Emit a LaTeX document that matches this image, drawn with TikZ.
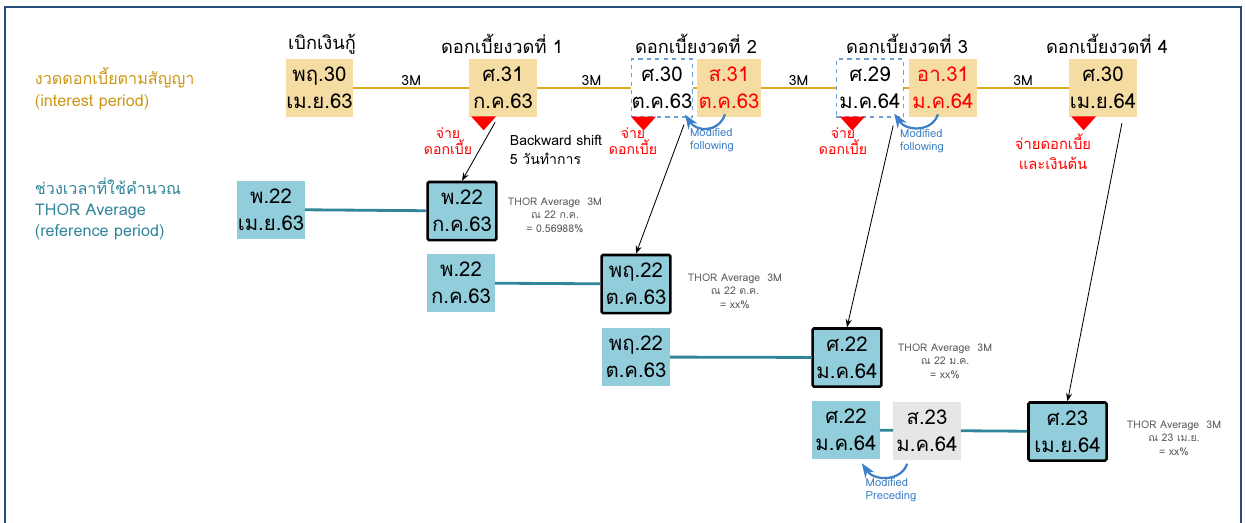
\documentclass[tikz,border=0pt]{standalone}
\usepackage{fontspec}
\setmainfont[Script=Thai]{Loma}
\usepackage{xcolor}
\usetikzlibrary{positioning,calc,arrows.meta}

\definecolor{goldfill}{RGB}{245,220,162}
\definecolor{goldline}{RGB}{226,170,36}
\definecolor{goldtext}{RGB}{204,150,20}
\definecolor{tealtext}{RGB}{49,133,155}
\definecolor{refblue}{RGB}{146,205,220}
\definecolor{holgray}{RGB}{230,230,230}
\definecolor{modblue}{RGB}{62,128,200}
\definecolor{frameblue}{RGB}{38,78,122}
\definecolor{notegray}{RGB}{90,90,90}

\begin{document}
\begin{tikzpicture}[
        x=0.025cm, y=-0.025cm,
        >=Stealth,
        datebox/.style={rectangle,minimum width=1.68cm,minimum height=1.45cm,inner sep=0pt,align=center,font=\fontsize{14.5}{19}\selectfont},
        intbox/.style={datebox,fill=goldfill},
        adjbox/.style={datebox,draw=modblue!75,dashed,thick,fill=white},
        refbox/.style={datebox,fill=refblue},
        fixbox/.style={datebox,fill=refblue,draw=black,line width=1.8pt,rounded corners=1pt,minimum width=1.72cm,minimum height=1.45cm},
        heading/.style={font=\fontsize{13}{15}\selectfont},
        paylabel/.style={text=red,align=center,font=\fontsize{10}{10}\selectfont},
        note/.style={text=notegray,align=center,font=\fontsize{7.5}{9.5}\selectfont},
        modnote/.style={text=modblue,align=left,font=\fontsize{8}{9}\selectfont},
        goldrule/.style={draw=goldline,line width=2pt},
        tealrule/.style={draw=tealtext,line width=2pt},
        shiftarrow/.style={->,line width=0.6pt},
        modarrow/.style={->,draw=modblue,line width=1.6pt}
    ]
        \useasboundingbox (0,0) rectangle (1246,522);
        \draw[frameblue,line width=2pt] (5,530) -- (5,7) -- (1241,7) -- (1241,530);

        % row labels
        \node[anchor=west,align=left,text=goldtext,font=\fontsize{11.5}{15.5}\selectfont] (intlabel) at (30,89) {งวดดอกเบี้ยตามสัญญา\\(interest period)};
        \node[anchor=west,align=left,text=tealtext,font=\fontsize{11.5}{15}\selectfont] (reflabel) at (30,209) {ช่วงเวลาที่ใช้คำนวณ\\THOR Average\\(reference period)};

        % interest period
        \node[intbox] (int0) at (319.5,88) {พฤ.30\\เม.ย.63};
        \node[intbox] (int1) at (503,88) {ศ.31\\ก.ค.63};
        \node[adjbox,minimum width=1.52cm] (adj2) at (662,88) {ศ.30\\ต.ค.63};
        \node[intbox,minimum width=1.6cm,text=red] (int2b) at (729,88) {ส.31\\ต.ค.63};
        \node[adjbox] (adj3) at (870,88) {ศ.29\\ม.ค.64};
        \node[intbox,text=red] (int3b) at (943,88) {อา.31\\ม.ค.64};
        \node[intbox] (int4) at (1103,88) {ศ.30\\เม.ย.64};

        \node[heading] (head0) at (322,44) {เบิกเงินกู้};
        \node[heading] (head1) at (502,44) {ดอกเบี้ยงวดที่ 1};
        \node[heading] (head2) at (696,44) {ดอกเบี้ยงวดที่ 2};
        \node[heading] (head3) at (907,44) {ดอกเบี้ยงวดที่ 3};
        \node[heading] (head4) at (1107,44) {ดอกเบี้ยงวดที่ 4};

        \draw[goldrule] (int0) -- node[midway,above,inner sep=1pt,text=black,font=\fontsize{10}{10}\selectfont]{3M} (int1);
        \draw[goldrule] (int1) -- node[pos=0.58,above,inner sep=1pt,text=black,font=\fontsize{10}{10}\selectfont]{3M} (adj2);
        \draw[goldrule] (adj2) -- (int2b);
        \draw[goldrule] (int2b) -- node[midway,above,inner sep=1pt,text=black,font=\fontsize{10}{10}\selectfont]{3M} (adj3);
        \draw[goldrule] (adj3) -- (int3b);
        \draw[goldrule] (int3b) -- node[midway,above,inner sep=1pt,text=black,font=\fontsize{10}{10}\selectfont]{3M} (int4);

        % payment marks
        \foreach \b/\dx in {int1/2,adj2/0,adj3/4,int4/2}
            \fill[red] ($(\b.south west)+(\dx,-1)$) -- ++(25,0) -- ++(-12.5,14) -- cycle;
        \node[paylabel] (pay1) at (448,141) {จ่าย\\ดอกเบี้ย};
        \node[paylabel] (pay2) at (633,141) {จ่าย\\ดอกเบี้ย};
        \node[paylabel] (pay3) at (843,141) {จ่าย\\ดอกเบี้ย};
        \node[paylabel,font=\fontsize{10.5}{14}\selectfont] (pay4) at (1053,152) {จ่ายดอกเบี้ย\\และเงินต้น};

        \node[align=left,font=\fontsize{10}{13.5}\selectfont] (bshift) at (556,150) {Backward shift\\5 วันทำการ};

        % modified following
        \draw[modarrow] ($(int2b.south)+(-4,-3)$) .. controls +(-6,18) and +(12,18) .. ($(adj2.south east)+(-8,-3)$);
        \node[modnote] (mod2) at (712,140) {Modified\\following};
        \draw[modarrow] ($(int3b.south)+(-5,-3)$) .. controls +(-6,18) and +(12,18) .. ($(adj3.south east)+(-10,-4)$);
        \node[modnote] (mod3) at (922,141) {Modified\\following};

        % reference period
        \node[refbox] (ref1) at (271,209.5) {พ.22\\เม.ย.63};
        \node[fixbox] (fix1) at (462,211) {พ.22\\ก.ค.63};
        \node[refbox] (ref2) at (461,283) {พ.22\\ก.ค.63};
        \node[fixbox] (fix2) at (636,284) {พฤ.22\\ต.ค.63};
        \node[refbox] (ref3) at (636,357) {พฤ.22\\ต.ค.63};
        \node[fixbox] (fix3) at (847,357.5) {ศ.22\\ม.ค.64};
        \node[refbox] (ref4) at (846,430) {ศ.22\\ม.ค.64};
        \node[datebox,fill=holgray] (hol4) at (927,430.5) {ส.23\\ม.ค.64};
        \node[fixbox,minimum width=1.95cm] (fix4) at (1067.5,431.5) {ศ.23\\เม.ย.64};

        \draw[tealrule] (ref1) -- (fix1);
        \draw[tealrule] (ref2) -- (fix2);
        \draw[tealrule] (ref3) -- (fix3);
        \draw[tealrule] (ref4) -- (hol4);
        \draw[tealrule] (hol4) -- (fix4);

        \node[note] (thor1) at (555,215) {THOR Average\ \ 3M\\ณ 22 ก.ค.\\= 0.56988\%};
        \node[note] (thor2) at (735,291) {THOR Average\ \ 3M\\ณ 22 ต.ค.\\= xx\%};
        \node[note] (thor3) at (945,361) {THOR Average\ \ 3M\\ณ 22 ม.ค.\\= xx\%};
        \node[note] (thor4) at (1174,438) {THOR Average\ \ 3M\\ณ 23 เม.ย.\\= xx\%};

        % shift arrows
        \draw[shiftarrow] ($(int1.south west)+(26,5)$) -- (fix1.north);
        \draw[shiftarrow] ($(adj2.south east)+(-9,7)$) -- (fix2.north);
        \draw[shiftarrow] ($(adj3.south east)+(-11,8)$) -- (fix3.north);
        \draw[shiftarrow] ($(int4.south east)+(-15,6)$) -- (fix4.north);

        % modified preceding
        \draw[modarrow] ($(hol4.south west)+(14,4)$) .. controls +(-6,18) and +(12,18) .. ($(ref4.south east)+(-18,4)$);
        \node[modnote] (mod4) at (891,490) {Modified\\Preceding};
    \end{tikzpicture}
\end{document}
